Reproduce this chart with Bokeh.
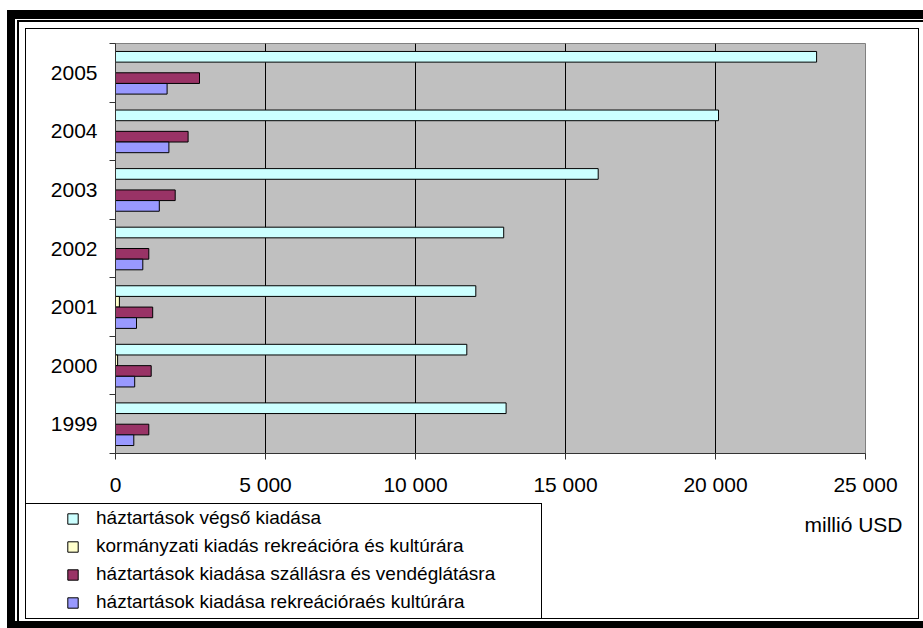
from bokeh.plotting import figure
from bokeh.layouts import column
from bokeh.models import (Range1d, FixedTicker, LinearAxis, Legend, LegendItem,
                          Label, Grid, ColumnDataSource)
from bokeh.embed import file_html
from bokeh.resources import INLINE

# ---- data (millió USD) ----
years = ["1999", "2000", "2001", "2002", "2003", "2004", "2005"]
vegso = [13020, 11710, 12010, 12940, 16090, 20100, 23370]          # háztartások végső kiadása
kormanyzati = [None, 70, 130, None, None, None, None]              # kormányzati kiadás
szallas = [1110, 1190, 1240, 1110, 1990, 2420, 2800]               # szállás, vendéglátás
rekreacio = [610, 640, 700, 910, 1460, 1780, 1720]                 # rekreáció, kultúra

series_names = ["háztartások végső kiadása",
                "kormányzati kiadás rekreációra és kultúrára",
                "háztartások kiadása szállásra és vendéglátásra",
                "háztartások kiadása rekreációraés kultúrára"]
series_colors = ["#CCFFFF", "#FFFFCC", "#993366", "#9999FF"]
x_ticks = [0, 5000, 10000, 15000, 20000, 25000]
x_tick_labels = ["0", "5 000", "10 000", "15 000", "20 000", "25 000"]
unit_label = "millió USD"

FONT = "Liberation Sans"
W = 923
H_CHART, H_LEG = 503, 125


def rect(x, y, w, h):
    return f"linear-gradient(#000,#000) {x}px {y}px / {w}px {h}px no-repeat"


# decorative chart-area frame (double border, inner border, legend box) as CSS background
frame_css = ", ".join([
    rect(7, 10, 916, 9),      # thick top
    rect(7, 10, 8, 618),      # thick left
    rect(7, 621, 916, 7),     # thick bottom
    rect(17, 20, 906, 2),     # thin top
    rect(17, 20, 2, 608),     # thin left
    rect(25, 28, 894, 1),     # inner border top
    rect(25, 28, 1, 591),     # inner border left
    rect(918, 28, 1, 591),    # inner border right
    rect(25, 618, 894, 1),    # inner border bottom
    rect(25, 503, 517, 1),    # legend box top
    rect(541, 503, 1, 116),   # legend box right
]) + ", #ffffff"

# ---------------- chart ----------------
chart = figure(width=W, height=H_CHART, output_backend="svg", toolbar_location=None,
               x_range=Range1d(0, 25000), y_range=Range1d(0, len(years)),
               x_axis_type=None, y_axis_type=None)
chart.frame_align = False
chart.min_border = 0
chart.min_border_left = 115
chart.min_border_right = 58
chart.min_border_top = 43
chart.min_border_bottom = 50
chart.background_fill_color = "#C0C0C0"
chart.border_fill_color = None
chart.outline_line_color = "#808080"
chart.outline_line_width = 1

xaxis = LinearAxis(ticker=FixedTicker(ticks=x_ticks))
xaxis.major_label_overrides = {t: l for t, l in zip(x_ticks, x_tick_labels)}
xaxis.major_label_text_font = FONT
xaxis.major_label_text_font_size = "21px"
xaxis.major_label_text_color = "black"
xaxis.major_tick_out = 6
xaxis.major_tick_in = 0
xaxis.minor_tick_line_color = None
xaxis.major_tick_line_color = "#333333"
xaxis.axis_line_color = "#333333"
xaxis.major_label_standoff = 13
chart.add_layout(xaxis, "below")

centers = [i + 0.5 for i in range(len(years))]
bounds = list(range(len(years) + 1))
yaxis = LinearAxis(ticker=FixedTicker(ticks=centers, minor_ticks=bounds))
yaxis.major_label_overrides = {c: y for c, y in zip(centers, years)}
yaxis.major_label_text_font = FONT
yaxis.major_label_text_font_size = "21px"
yaxis.major_label_text_color = "black"
yaxis.major_tick_line_color = None
yaxis.major_tick_out = 0
yaxis.major_tick_in = 0
yaxis.minor_tick_out = 6
yaxis.minor_tick_in = 0
yaxis.minor_tick_line_color = "#333333"
yaxis.axis_line_color = "#333333"
yaxis.major_label_standoff = 12
chart.add_layout(yaxis, "left")

grid = Grid(dimension=0, ticker=FixedTicker(ticks=x_ticks[1:-1]))
grid.grid_line_color = "black"
grid.grid_line_width = 1
chart.add_layout(grid)

offsets = [0.273, 0.091, -0.091, -0.273]
bar_h = 0.182
sources = []
for vals, col, off in zip([vegso, kormanyzati, szallas, rekreacio], series_colors, offsets):
    src = ColumnDataSource(dict(
        y=[c + off for c in centers],
        right=[float("nan") if v is None else v for v in vals],
    ))
    sources.append(src)
    chart.hbar(y="y", left=0, right="right", height=bar_h, source=src,
               fill_color=col, line_color="black", line_width=1)

# ---------------- legend strip ----------------
leg = figure(width=W, height=H_LEG, output_backend="svg", toolbar_location=None,
             x_range=Range1d(0, W), y_range=Range1d(H_LEG, 0),
             x_axis_type=None, y_axis_type=None)
leg.frame_align = False
leg.min_border = 0
leg.min_border_left = 0
leg.min_border_right = 0
leg.min_border_top = 0
leg.min_border_bottom = 0
leg.background_fill_color = None
leg.border_fill_color = None
leg.outline_line_color = None
# the series are mapped onto a range that lies outside this strip, so only
# their legend swatches are visible here
leg.extra_y_ranges = {"offstrip": Range1d(1000, 2000)}

swatches = []
for src, col in zip(sources, series_colors):
    swatches.append(leg.hbar(y="y", left=0, right="right", height=bar_h, source=src,
                             y_range_name="offstrip",
                             fill_color=col, line_color="black", line_width=1))

legend = Legend(items=[LegendItem(label=n, renderers=[r]) for n, r in zip(series_names, swatches)],
                location=(66, 15))
legend.label_text_font = FONT
legend.label_text_font_size = "19px"
legend.label_text_color = "black"
legend.glyph_width = 13
legend.glyph_height = 13
legend.label_standoff = 17
legend.label_height = 22
legend.spacing = 6
legend.padding = 0
legend.margin = 0
legend.border_line_color = None
legend.background_fill_color = None
legend.background_fill_alpha = 0
leg.add_layout(legend)

leg.add_layout(Label(x=902, y=21, text=unit_label, text_font=FONT, text_font_size="21px",
                     text_color="black", text_align="right", text_baseline="middle"))

p = column(chart, leg, spacing=0, styles={"background": frame_css})

open("out.html", "w").write(file_html(p, INLINE))
